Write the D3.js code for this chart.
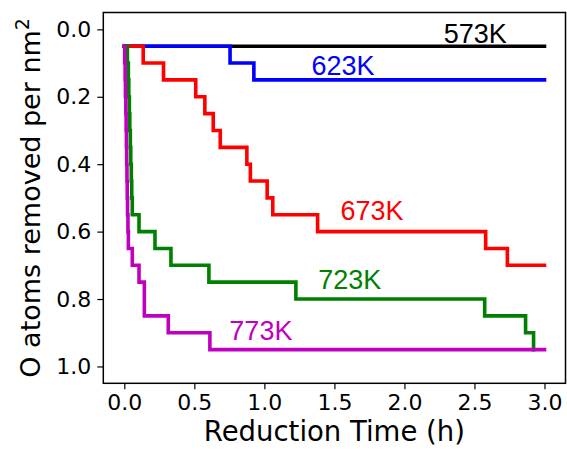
<!DOCTYPE html>
<html>
<head>
<meta charset="utf-8">
<script src="https://cdn.jsdelivr.net/npm/d3@7"></script>
<style>
    body { margin: 0; background: #fff; }
    svg { display: block; }
</style>
</head>
<body>
<svg id="chart" width="567" height="455"></svg>
<script>
// step data (time in h, O removed per nm2); each value holds from its time on
var t573 = [0, 3.0];
var v573 = [0.05, 0.05];

var t623 = [0, 0.755, 0.925, 3.0];
var v623 = [0.05, 0.10, 0.15, 0.15];

var t673 = [0, 0.135, 0.28, 0.51, 0.575, 0.635, 0.685, 0.875, 0.90, 1.02, 1.06, 1.38, 2.58, 2.735, 3.0];
var v673 = [0.05, 0.10, 0.15, 0.20, 0.25, 0.30, 0.35, 0.40, 0.45, 0.50, 0.55, 0.60, 0.65, 0.70, 0.70];

var t723 = [0, 0.022, 0.029, 0.032, 0.036, 0.039, 0.043, 0.046, 0.05, 0.053, 0.057, 0.105, 0.219, 0.333, 0.604, 1.225, 2.573, 2.865, 2.922];
var v723 = [0.05, 0.10, 0.15, 0.20, 0.25, 0.30, 0.35, 0.40, 0.45, 0.50, 0.55, 0.60, 0.65, 0.70, 0.75, 0.80, 0.85, 0.90, 0.95];

var t773 = [0, 0.003, 0.006, 0.008, 0.011, 0.013, 0.015, 0.017, 0.019, 0.021, 0.023, 0.026, 0.029, 0.057, 0.105, 0.143, 0.314, 0.611, 3.0];
var v773 = [0.05, 0.10, 0.15, 0.20, 0.25, 0.30, 0.35, 0.40, 0.45, 0.50, 0.55, 0.60, 0.65, 0.70, 0.75, 0.85, 0.90, 0.95, 0.95];

var seriesNames = ['573K', '623K', '673K', '723K', '773K'];
var seriesTimes = [t573, t623, t673, t723, t773];
var seriesValues = [v573, v623, v673, v723, v773];
var seriesColors = ['#000000', '#0000ff', '#ff0000', '#008000', '#bf00bf'];

// where each temperature label sits (data coords, left / baseline)
var labelX = [2.28, 1.337, 1.544, 1.385, 0.75];
var labelY = [0.04, 0.136, 0.567, 0.769, 0.921];

var xTicks = [0, 0.5, 1.0, 1.5, 2.0, 2.5, 3.0];
var yTicks = [0, 0.2, 0.4, 0.6, 0.8, 1.0];

var svg = d3.select('#chart');

var plotLeft = 103.3;
var plotRight = 565.5;
var plotTop = 12.5;
var plotBottom = 383.3;

var x = d3.scaleLinear().domain([-0.15, 3.15]).range([plotLeft, plotRight]);
// inverted: 0 at the top
var y = d3.scaleLinear().domain([-0.05, 1.05]).range([plotTop, plotBottom]);

var line = d3
    .line()
    .x((d) => x(d[0]))
    .y((d) => y(d[1]))
    .curve(d3.curveStepAfter);

var lines = svg.append('g').attr('class', 'lines');
for (let i = 0; i < seriesNames.length; i++) {
    var pts = seriesTimes[i].map((t, k) => [t, seriesValues[i][k]]);
    lines
        .append('path')
        .datum(pts)
        .attr('d', line)
        .attr('fill', 'none')
        .attr('stroke', seriesColors[i])
        .attr('stroke-width', 3.6)
        .attr('stroke-linejoin', 'miter')
        .attr('stroke-linecap', 'square');
}

var labels = svg.append('g').attr('class', 'labels');
for (let i = 0; i < seriesNames.length; i++) {
    labels
        .append('text')
        .attr('x', x(labelX[i]))
        .attr('y', y(labelY[i]))
        .attr('fill', seriesColors[i])
        .style('font-family', '"Liberation Sans", Arial, sans-serif')
        .style('font-size', '27px')
        .text(seriesNames[i]);
}

// axes
var xAxis = svg
    .append('g')
    .attr('transform', 'translate(0,' + plotBottom + ')')
    .call(d3.axisBottom(x).tickValues(xTicks).tickFormat(d3.format('.1f')).tickSizeOuter(0).tickSize(6).tickPadding(5));

var yAxis = svg
    .append('g')
    .attr('transform', 'translate(' + plotLeft + ',0)')
    .call(d3.axisLeft(y).tickValues(yTicks).tickFormat(d3.format('.1f')).tickSizeOuter(0).tickSize(6).tickPadding(6));

[xAxis, yAxis].forEach((ax) => {
    ax.select('.domain').remove();
    ax.selectAll('.tick line').attr('stroke', '#000').attr('stroke-width', 1.2);
    ax.selectAll('.tick text')
        .attr('fill', '#000')
        .style('font-family', '"DejaVu Sans", sans-serif')
        .style('font-size', '22px');
});

svg.append('rect')
    .attr('x', plotLeft)
    .attr('y', plotTop)
    .attr('width', plotRight - plotLeft)
    .attr('height', plotBottom - plotTop)
    .attr('fill', 'none')
    .attr('stroke', '#000')
    .attr('stroke-width', 1.5);

svg.append('text')
    .attr('x', (plotLeft + plotRight) / 2)
    .attr('y', 441)
    .attr('text-anchor', 'middle')
    .style('font-family', '"DejaVu Sans", sans-serif')
    .style('font-size', '27.5px')
    .text('Reduction Time (h)');

var yTitle = svg
    .append('text')
    .attr('transform', 'translate(40,' + (plotTop + plotBottom) / 2 + ') rotate(-90)')
    .attr('text-anchor', 'middle')
    .style('font-family', '"DejaVu Sans", sans-serif')
    .style('font-size', '27px');
yTitle.append('tspan').text('O atoms removed per nm');
yTitle.append('tspan').attr('dy', -11).style('font-size', '19px').text('2');
</script>
</body>
</html>
